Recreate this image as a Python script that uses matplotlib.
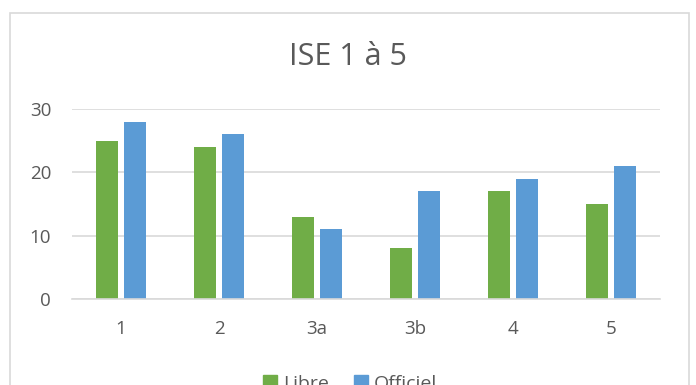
import numpy as np
import matplotlib
matplotlib.use("Agg")
import matplotlib.pyplot as plt
from matplotlib.patches import Rectangle, Patch

# --- DATA ---
categories = ["1", "2", "3a", "3b", "4", "5"]
libre = [25, 24, 13, 8, 17, 15]
officiel = [28, 26, 11, 17, 19, 21]
yticks = [0, 10, 20, 30]

GREEN = "#70AD47"
BLUE = "#5B9BD5"
GRID = "#D9D9D9"
TEXT = "#595959"

plt.rcParams["font.family"] = ["Open Sans", "DejaVu Sans"]

W, H = 696, 385
fig = plt.figure(figsize=(W / 100, H / 100), dpi=100)

# chart area border (bottom is cut off in the reference)
fig.patches.append(Rectangle((9.5 / W, -0.05), (688.5 - 9.5) / W, 1.05 - 13.5 / H,
                             transform=fig.transFigure, fill=False,
                             edgecolor="#D9D9D9", lw=1.2))

ax = fig.add_axes([72 / W, 1 - 299 / H, 588 / W, 190 / H])
x = np.arange(len(categories))
bw = 0.225
ax.bar(x - 0.143, libre, bw, color=GREEN, label="Libre")
ax.bar(x + 0.143, officiel, bw, color=BLUE, label="Officiel")

ax.set_xlim(-0.5, len(categories) - 0.5)
ax.set_ylim(0, 30)
ax.set_yticks(yticks)
ax.set_xticks(x)
ax.set_xticklabels(categories)
ax.yaxis.grid(True, color=GRID, lw=1.2)
ax.set_axisbelow(True)
for s in ["top", "right", "left"]:
    ax.spines[s].set_visible(False)
ax.spines["bottom"].set_color(GRID)
ax.spines["bottom"].set_linewidth(1.2)
ax.tick_params(axis="both", length=0, labelsize=13.5, colors=TEXT)
ax.tick_params(axis="x", pad=15)
ax.tick_params(axis="y", pad=15)

fig.text(348 / W, 1 - 57 / H, "ISE 1 à 5", ha="center", va="center",
         fontsize=22, color=TEXT)

handles = [Patch(color=GREEN), Patch(color=BLUE)]
fig.legend(handles, ["Libre", "Officiel"], loc="center",
           bbox_to_anchor=(350 / W, 1 - 384 / H), ncol=2, frameon=False,
           fontsize=14, labelcolor=TEXT, handlelength=0.7, handleheight=0.7,
           handletextpad=0.3, columnspacing=1.3)

fig.savefig("out.png", dpi=100)
